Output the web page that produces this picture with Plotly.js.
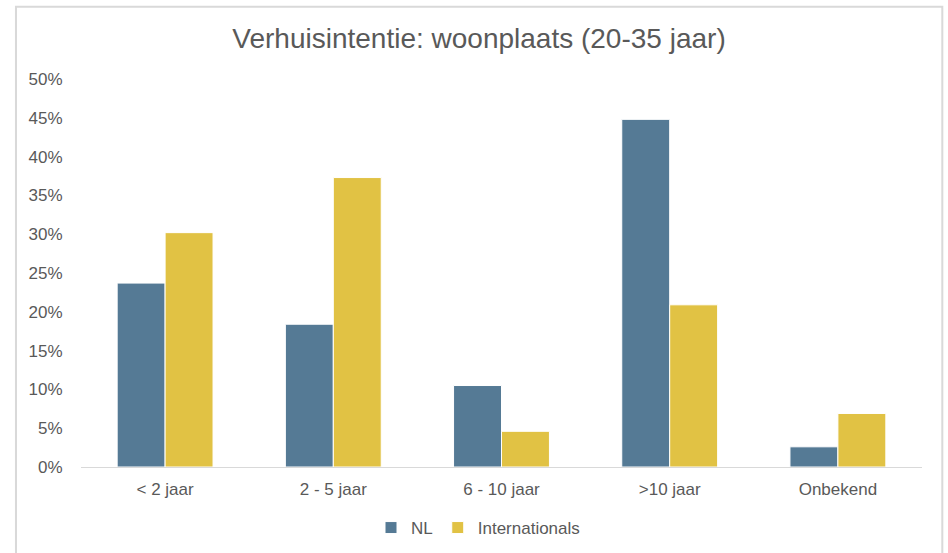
<!DOCTYPE html>
<html>
<head>
<meta charset="utf-8">
<script src="https://cdn.plot.ly/plotly-3.0.1.min.js"></script>
<style>
  html, body { margin: 0; padding: 0; background: #ffffff; }
  #chart { width: 948px; height: 553px; }
</style>
</head>
<body>
<div id="chart"></div>
<script>
// Data
const categories = ["< 2 jaar", "2 - 5 jaar", "6 - 10 jaar", ">10 jaar", "Onbekend"];
const nlValues = [0.237, 0.184, 0.105, 0.448, 0.026];
const internationalsValues = [0.302, 0.373, 0.046, 0.209, 0.069];
const seriesNames = ["NL", "Internationals"];
const yTickValues = [0, 0.05, 0.10, 0.15, 0.20, 0.25, 0.30, 0.35, 0.40, 0.45, 0.50];

const textColor = "#595959";
const fontFamily = "Liberation Sans, Arial, sans-serif";

const traces = [
  {
    type: "bar",
    name: seriesNames[0],
    x: categories,
    y: nlValues,
    marker: { color: "#557A95", line: { color: "#ffffff", width: 1 } },
    hoverinfo: "x+y+name"
  },
  {
    type: "bar",
    name: seriesNames[1],
    x: categories,
    y: internationalsValues,
    marker: { color: "#E1C244", line: { color: "#ffffff", width: 1 } },
    hoverinfo: "x+y+name"
  }
];

// plot area: x 81 .. 921.7, y 78.5 .. 467.5
const W = 948, H = 553;
const L = 81, R = 26.3, T = 78.5, B = 85.5;
const pw = W - L - R, ph = H - T - B;
function px2x(px) { return (px - L) / pw; }
function py2y(py) { return (H - B - py) / ph; }

const layout = {
  width: W,
  height: H,
  margin: { l: L, r: R, t: T, b: B, pad: 0 },
  paper_bgcolor: "#ffffff",
  plot_bgcolor: "#ffffff",
  font: { family: fontFamily, color: textColor, size: 17 },
  title: {
    text: "Verhuisintentie: woonplaats (20-35 jaar)",
    font: { family: fontFamily, size: 28, color: textColor },
    xref: "container",
    yref: "container",
    x: 479 / W,
    xanchor: "center",
    y: 1 - 38 / H,
    yanchor: "middle"
  },
  barmode: "group",
  bargap: 0.43,
  bargroupgap: 0,
  xaxis: {
    type: "category",
    showgrid: false,
    showline: true,
    linecolor: "#D9D9D9",
    linewidth: 1,
    ticks: "outside",
    ticklen: 7,
    tickcolor: "rgba(0,0,0,0)",
    tickfont: { family: fontFamily, size: 17, color: textColor },
    zeroline: false,
    fixedrange: true
  },
  yaxis: {
    range: [0, 0.5],
    tickvals: yTickValues,
    tickformat: ".0%",
    showgrid: false,
    showline: false,
    zeroline: false,
    ticks: "outside",
    ticklen: 14,
    tickcolor: "rgba(0,0,0,0)",
    tickfont: { family: fontFamily, size: 17, color: textColor },
    fixedrange: true
  },
  showlegend: true,
  legend: {
    orientation: "h",
    xref: "container",
    yref: "container",
    x: 478 / W,
    xanchor: "center",
    y: 1 - 528 / H,
    yanchor: "middle",
    font: { family: fontFamily, size: 17, color: textColor },
    itemwidth: 30,
    traceorder: "normal",
    bgcolor: "rgba(0,0,0,0)"
  },
  shapes: [
    {
      type: "rect",
      xref: "paper",
      yref: "paper",
      x0: px2x(16),
      x1: px2x(942),
      y0: py2y(560),
      y1: py2y(6),
      line: { color: "#D9D9D9", width: 2 },
      fillcolor: "rgba(0,0,0,0)",
      layer: "below"
    }
  ]
};

Plotly.newPlot("chart", traces, layout, { displayModeBar: false, staticPlot: true });
</script>
</body>
</html>
